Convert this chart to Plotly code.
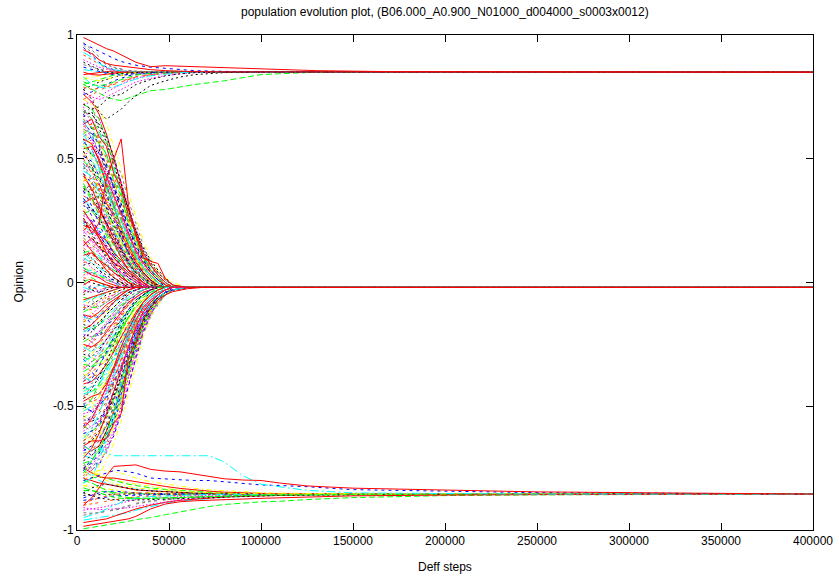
import plotly.graph_objects as go

TITLE = "population evolution plot, (B06.000_A0.900_N01000_d004000_s0003x0012)"
X_LABEL = "Deff steps"
Y_LABEL = "Opinion"
X_TICKS = [0, 50000, 100000, 150000, 200000, 250000, 300000, 350000, 400000]
Y_TICKS = [-1, -0.5, 0, 0.5, 1]
Y_TICK_TEXT = ["-1", "-0.5", "0", "0.5", "1"]
END_STEP = 400000

# sample steps for each group
T_MID = [3500, 8000, 12000, 16000, 20000, 24000, 28000, 32000, 36000, 40000, 44000, 48000, 52000, 60000, 68000]
T_TOP = [3500, 8000, 12000, 16000, 20000, 24000, 28000, 32000, 40000, 48000, 56000, 64000, 80000, 100000, 130000, 170000]
T_BOT = [3500, 8000, 12000, 16000, 20000, 24000, 28000, 32000, 40000, 48000, 56000, 64000, 72000, 80000, 90000,
         100000, 110000, 125000, 150000, 200000, 250000]

MID_FINAL = -0.02
TOP_FINAL = 0.85
BOT_FINAL = -0.855

MID = [
    [0.76, 0.73, 0.68, 0.60, 0.50, 0.40, 0.29, 0.19, 0.11, 0.05, 0.02, -0.01, -0.02],
    [0.74, 0.72, 0.70, 0.64, 0.55, 0.46, 0.36, 0.26, 0.17, 0.10, 0.05, 0.02, 0.0, -0.02],
    [0.72, 0.70, 0.66, 0.58, 0.47, 0.36, 0.25, 0.16, 0.09, 0.04, 0.01, -0.01, -0.02],
    [0.69, 0.68, 0.64, 0.59, 0.51, 0.40, 0.29, 0.21, 0.13, 0.08, 0.04, 0.01, -0.01, -0.02],
    [0.68, 0.62, 0.55, 0.47, 0.38, 0.29, 0.20, 0.12, 0.06, 0.02, 0.0, -0.02],
    [0.66, 0.63, 0.57, 0.50, 0.41, 0.33, 0.26, 0.19, 0.10, 0.077, 0.04, 0.016, -0.01, -0.02],
    [0.64, 0.58, 0.50, 0.40, 0.30, 0.21, 0.13, 0.07, 0.03, 0.0, -0.02],
    [0.62, 0.60, 0.52, 0.45, 0.36, 0.27, 0.17, 0.10, 0.05, 0.02, -0.01, -0.02],
    [0.60, 0.54, 0.46, 0.38, 0.28, 0.19, 0.12, 0.06, 0.02, -0.01, -0.02],
    [0.58, 0.56, 0.49, 0.39, 0.31, 0.22, 0.15, 0.09, 0.04, 0.01, -0.01, -0.02],
    [0.56, 0.50, 0.42, 0.33, 0.24, 0.16, 0.10, 0.05, 0.01, -0.01, -0.02],
    [0.55, 0.52, 0.47, 0.41, 0.33, 0.25, 0.18, 0.11, 0.06, 0.03, 0.0, -0.02],
    [0.53, 0.47, 0.38, 0.30, 0.22, 0.14, 0.08, 0.03, 0.0, -0.02],
    [0.51, 0.49, 0.43, 0.36, 0.27, 0.20, 0.12, 0.07, 0.03, 0.0, -0.02],
    [0.50, 0.44, 0.37, 0.28, 0.20, 0.13, 0.07, 0.03, 0.0, -0.02],
    [0.48, 0.45, 0.40, 0.34, 0.26, 0.18, 0.11, 0.06, 0.02, -0.01, -0.02],
    [0.47, 0.41, 0.33, 0.25, 0.17, 0.10, 0.05, 0.01, -0.01, -0.02],
    [0.45, 0.43, 0.36, 0.29, 0.21, 0.15, 0.09, 0.05, 0.02, -0.01, -0.02],
    [0.43, 0.38, 0.31, 0.23, 0.16, 0.10, 0.05, 0.02, -0.01, -0.02],
    [0.42, 0.40, 0.35, 0.29, 0.22, 0.16, 0.10, 0.05, 0.02, 0.0, -0.02],
    [0.40, 0.34, 0.27, 0.19, 0.12, 0.07, 0.03, 0.0, -0.02],
    [0.38, 0.36, 0.30, 0.24, 0.19, 0.13, 0.08, 0.04, 0.01, -0.01, -0.02],
    [0.37, 0.31, 0.24, 0.17, 0.11, 0.06, 0.02, -0.01, -0.02],
    [0.35, 0.33, 0.28, 0.22, 0.15, 0.10, 0.06, 0.03, 0.0, -0.02],
    [0.33, 0.27, 0.20, 0.14, 0.08, 0.04, 0.01, -0.01, -0.02],
    [0.31, 0.30, 0.26, 0.21, 0.17, 0.12, 0.08, 0.04, 0.02, 0.0, -0.01, -0.02],
    [0.29, 0.24, 0.18, 0.12, 0.07, 0.03, 0.0, -0.02],
    [0.27, 0.25, 0.20, 0.15, 0.10, 0.06, 0.03, 0.01, -0.01, -0.02],
    [0.25, 0.20, 0.15, 0.10, 0.06, 0.02, 0.0, -0.02],
    [0.23, 0.22, 0.18, 0.14, 0.10, 0.07, 0.04, 0.02, 0.0, -0.02],
    [0.21, 0.17, 0.12, 0.08, 0.04, 0.01, -0.01, -0.02],
    [0.19, 0.18, 0.15, 0.11, 0.08, 0.05, 0.02, 0.0, -0.02],
    [0.17, 0.13, 0.09, 0.05, 0.02, 0.0, -0.02],
    [0.15, 0.14, 0.12, 0.09, 0.06, 0.04, 0.02, 0.0, -0.01, -0.02],
    [0.13, 0.10, 0.07, 0.04, 0.02, 0.0, -0.02],
    [0.11, 0.12, 0.09, 0.07, 0.04, 0.02, 0.0, -0.01, -0.02],
    [0.09, 0.06, 0.04, 0.02, 0.0, -0.02],
    [0.07, 0.08, 0.05, 0.03, 0.01, 0.0, -0.01, -0.02],
    [0.05, 0.03, 0.02, 0.0, -0.01, -0.02],
    [0.03, 0.04, 0.02, 0.01, 0.0, -0.01, -0.02],
    [0.01, 0.0, -0.01, -0.01, -0.02],
    [-0.01, 0.01, 0.0, -0.01, -0.02],
    [-0.03, -0.04, -0.03, -0.03, -0.02],
    [-0.05, -0.03, -0.04, -0.03, -0.02],
    [-0.07, -0.06, -0.05, -0.04, -0.03, -0.02],
    [-0.09, -0.10, -0.08, -0.06, -0.05, -0.03, -0.02],
    [-0.11, -0.09, -0.07, -0.05, -0.04, -0.03, -0.02],
    [-0.13, -0.14, -0.12, -0.09, -0.07, -0.05, -0.03, -0.02],
    [-0.15, -0.13, -0.10, -0.08, -0.06, -0.04, -0.03, -0.02],
    [-0.17, -0.18, -0.16, -0.13, -0.10, -0.07, -0.05, -0.03, -0.02],
    [-0.19, -0.17, -0.14, -0.11, -0.08, -0.05, -0.03, -0.02],
    [-0.21, -0.22, -0.20, -0.17, -0.13, -0.10, -0.07, -0.05, -0.03, -0.02],
    [-0.23, -0.20, -0.17, -0.13, -0.10, -0.07, -0.04, -0.03, -0.02],
    [-0.25, -0.26, -0.24, -0.20, -0.16, -0.12, -0.08, -0.06, -0.04, -0.03, -0.02],
    [-0.27, -0.24, -0.20, -0.16, -0.12, -0.08, -0.05, -0.03, -0.02],
    [-0.29, -0.30, -0.27, -0.23, -0.19, -0.15, -0.11, -0.07, -0.05, -0.03, -0.02],
    [-0.31, -0.28, -0.24, -0.19, -0.14, -0.10, -0.06, -0.04, -0.03, -0.02],
    [-0.33, -0.34, -0.31, -0.27, -0.22, -0.17, -0.12, -0.08, -0.05, -0.03, -0.02],
    [-0.35, -0.32, -0.28, -0.23, -0.18, -0.13, -0.09, -0.06, -0.04, -0.03, -0.02],
    [-0.37, -0.38, -0.35, -0.31, -0.26, -0.20, -0.15, -0.10, -0.07, -0.05, -0.03, -0.02],
    [-0.39, -0.35, -0.30, -0.25, -0.19, -0.14, -0.09, -0.06, -0.04, -0.03, -0.02],
    [-0.41, -0.40, -0.37, -0.33, -0.28, -0.22, -0.17, -0.12, -0.08, -0.05, -0.03, -0.02],
    [-0.43, -0.39, -0.34, -0.28, -0.22, -0.16, -0.11, -0.07, -0.05, -0.03, -0.02],
    [-0.45, -0.44, -0.41, -0.36, -0.30, -0.24, -0.18, -0.13, -0.09, -0.06, -0.04, -0.03, -0.02],
    [-0.47, -0.43, -0.38, -0.32, -0.25, -0.18, -0.12, -0.08, -0.05, -0.03, -0.02],
    [-0.49, -0.48, -0.45, -0.40, -0.34, -0.27, -0.20, -0.14, -0.09, -0.06, -0.04, -0.03, -0.02],
    [-0.51, -0.47, -0.41, -0.34, -0.27, -0.20, -0.14, -0.09, -0.06, -0.04, -0.02],
    [-0.53, -0.52, -0.48, -0.43, -0.36, -0.29, -0.22, -0.16, -0.11, -0.07, -0.05, -0.03, -0.02],
    [-0.55, -0.51, -0.46, -0.39, -0.31, -0.24, -0.17, -0.11, -0.07, -0.05, -0.03, -0.02],
    [-0.57, -0.56, -0.52, -0.46, -0.39, -0.31, -0.24, -0.17, -0.12, -0.08, -0.05, -0.03, -0.02],
    [-0.59, -0.55, -0.49, -0.42, -0.34, -0.26, -0.19, -0.13, -0.08, -0.05, -0.03, -0.02],
    [-0.61, -0.60, -0.57, -0.51, -0.44, -0.36, -0.28, -0.20, -0.14, -0.09, -0.06, -0.04, -0.03, -0.02],
    [-0.63, -0.59, -0.53, -0.45, -0.37, -0.29, -0.21, -0.14, -0.09, -0.06, -0.04, -0.02],
    [-0.65, -0.64, -0.60, -0.54, -0.46, -0.38, -0.29, -0.21, -0.15, -0.10, -0.06, -0.04, -0.03, -0.02],
    [-0.67, -0.63, -0.57, -0.49, -0.40, -0.31, -0.23, -0.16, -0.10, -0.07, -0.04, -0.03, -0.02],
    [-0.69, -0.68, -0.64, -0.57, -0.48, -0.39, -0.30, -0.22, -0.15, -0.10, -0.07, -0.04, -0.03, -0.02],
    [-0.71, -0.67, -0.61, -0.53, -0.44, -0.35, -0.26, -0.18, -0.12, -0.08, -0.05, -0.03, -0.02],
    [-0.73, -0.72, -0.68, -0.61, -0.52, -0.42, -0.33, -0.24, -0.17, -0.11, -0.07, -0.05, -0.03, -0.02],
    [-0.75, -0.73, -0.69, -0.62, -0.54, -0.45, -0.35, -0.25, -0.17, -0.11, -0.07, -0.04, -0.03, -0.02],
    [-0.78, -0.74, -0.70, -0.66, -0.60, -0.50, -0.38, -0.27, -0.18, -0.12, -0.08, -0.05, -0.03, -0.02],
    [-0.81, -0.79, -0.72, -0.63, -0.52, -0.41, -0.30, -0.21, -0.14, -0.09, -0.06, -0.04, -0.03, -0.02],
]
MID_B = [
    [0.70, 0.66, 0.61, 0.55, 0.45, 0.37, 0.27, 0.20, 0.12, 0.07, 0.03, 0.0, -0.02],
    [0.67, 0.69, 0.62, 0.57, 0.48, 0.38, 0.30, 0.21, 0.14, 0.09, 0.05, 0.02, -0.01, -0.02],
    [0.65, 0.60, 0.56, 0.46, 0.40, 0.30, 0.23, 0.15, 0.09, 0.05, 0.02, -0.01, -0.02],
    [0.63, 0.64, 0.58, 0.52, 0.43, 0.35, 0.24, 0.18, 0.11, 0.06, 0.03, 0.0, -0.02],
    [0.61, 0.57, 0.53, 0.44, 0.37, 0.26, 0.19, 0.12, 0.08, 0.04, 0.01, -0.01, -0.02],
    [0.59, 0.61, 0.55, 0.47, 0.40, 0.31, 0.22, 0.16, 0.10, 0.05, 0.02, 0.0, -0.02],
    [0.57, 0.52, 0.48, 0.42, 0.32, 0.25, 0.17, 0.11, 0.06, 0.03, 0.0, -0.02],
    [0.54, 0.55, 0.50, 0.43, 0.35, 0.28, 0.20, 0.13, 0.08, 0.04, 0.01, -0.01, -0.02],
    [0.52, 0.48, 0.45, 0.37, 0.29, 0.23, 0.15, 0.10, 0.05, 0.02, 0.0, -0.02],
    [0.49, 0.46, 0.41, 0.38, 0.30, 0.22, 0.16, 0.10, 0.06, 0.03, 0.0, -0.02],
    [0.46, 0.47, 0.42, 0.35, 0.28, 0.21, 0.14, 0.08, 0.04, 0.01, -0.01, -0.02],
    [0.44, 0.40, 0.37, 0.31, 0.25, 0.18, 0.12, 0.07, 0.03, 0.0, -0.02],
    [0.41, 0.42, 0.38, 0.33, 0.26, 0.19, 0.13, 0.09, 0.05, 0.02, -0.01, -0.02],
    [0.39, 0.35, 0.32, 0.26, 0.20, 0.14, 0.09, 0.05, 0.02, -0.01, -0.02],
    [0.36, 0.38, 0.33, 0.27, 0.21, 0.16, 0.11, 0.06, 0.03, 0.0, -0.02],
    [0.34, 0.30, 0.27, 0.21, 0.16, 0.11, 0.07, 0.03, 0.0, -0.02],
    [0.32, 0.34, 0.29, 0.24, 0.18, 0.13, 0.09, 0.05, 0.02, 0.0, -0.02],
    [0.30, 0.26, 0.23, 0.18, 0.13, 0.09, 0.05, 0.02, -0.01, -0.02],
    [0.28, 0.29, 0.25, 0.20, 0.15, 0.11, 0.07, 0.04, 0.01, -0.01, -0.02],
    [0.26, 0.22, 0.19, 0.15, 0.11, 0.07, 0.04, 0.01, -0.01, -0.02],
    [0.24, 0.25, 0.21, 0.17, 0.12, 0.08, 0.05, 0.02, 0.0, -0.02],
    [0.22, 0.19, 0.16, 0.12, 0.09, 0.05, 0.02, 0.0, -0.02],
    [0.20, 0.21, 0.17, 0.13, 0.10, 0.06, 0.03, 0.01, -0.01, -0.02],
    [0.18, 0.15, 0.13, 0.09, 0.06, 0.03, 0.01, -0.01, -0.02],
    [0.16, 0.17, 0.14, 0.10, 0.07, 0.04, 0.02, 0.0, -0.02],
    [0.14, 0.11, 0.10, 0.06, 0.04, 0.02, 0.0, -0.02],
    [0.12, 0.13, 0.10, 0.07, 0.05, 0.03, 0.01, -0.01, -0.02],
    [0.10, 0.08, 0.06, 0.04, 0.02, 0.0, -0.02],
    [0.08, 0.09, 0.07, 0.05, 0.03, 0.01, -0.01, -0.02],
    [0.06, 0.04, 0.03, 0.01, 0.0, -0.01, -0.02],
    [0.04, 0.05, 0.03, 0.02, 0.0, -0.02],
    [0.02, 0.01, 0.0, -0.01, -0.02],
    [0.00, 0.02, 0.0, -0.01, -0.02],
    [-0.02, -0.03, -0.01, -0.02],
    [-0.04, -0.02, -0.03, -0.02],
    [-0.06, -0.07, -0.05, -0.04, -0.03, -0.02],
    [-0.08, -0.06, -0.06, -0.04, -0.03, -0.02],
    [-0.10, -0.11, -0.09, -0.07, -0.05, -0.04, -0.03, -0.02],
    [-0.12, -0.10, -0.10, -0.08, -0.06, -0.04, -0.03, -0.02],
    [-0.14, -0.15, -0.13, -0.11, -0.08, -0.06, -0.04, -0.03, -0.02],
    [-0.16, -0.14, -0.13, -0.10, -0.08, -0.06, -0.04, -0.03, -0.02],
    [-0.18, -0.19, -0.17, -0.15, -0.12, -0.09, -0.07, -0.05, -0.03, -0.02],
    [-0.20, -0.18, -0.17, -0.14, -0.11, -0.08, -0.06, -0.04, -0.03, -0.02],
    [-0.22, -0.24, -0.22, -0.19, -0.16, -0.12, -0.09, -0.06, -0.04, -0.03, -0.02],
    [-0.24, -0.22, -0.21, -0.17, -0.14, -0.10, -0.07, -0.05, -0.03, -0.02],
    [-0.26, -0.28, -0.26, -0.23, -0.19, -0.15, -0.11, -0.08, -0.05, -0.04, -0.03, -0.02],
    [-0.28, -0.26, -0.25, -0.21, -0.17, -0.13, -0.09, -0.06, -0.04, -0.03, -0.02],
    [-0.30, -0.32, -0.30, -0.27, -0.23, -0.18, -0.14, -0.10, -0.07, -0.05, -0.03, -0.02],
    [-0.32, -0.30, -0.29, -0.25, -0.21, -0.16, -0.12, -0.08, -0.05, -0.04, -0.03, -0.02],
    [-0.34, -0.36, -0.34, -0.31, -0.27, -0.22, -0.17, -0.12, -0.09, -0.06, -0.04, -0.03, -0.02],
    [-0.36, -0.34, -0.33, -0.29, -0.24, -0.19, -0.14, -0.10, -0.07, -0.05, -0.03, -0.02],
    [-0.38, -0.40, -0.38, -0.35, -0.31, -0.26, -0.20, -0.15, -0.11, -0.07, -0.05, -0.03, -0.02],
    [-0.40, -0.38, -0.37, -0.33, -0.28, -0.22, -0.16, -0.12, -0.08, -0.05, -0.04, -0.03, -0.02],
    [-0.42, -0.44, -0.42, -0.39, -0.34, -0.29, -0.23, -0.17, -0.12, -0.08, -0.06, -0.04, -0.03, -0.02],
    [-0.44, -0.42, -0.41, -0.37, -0.32, -0.26, -0.19, -0.14, -0.09, -0.06, -0.04, -0.03, -0.02],
    [-0.46, -0.48, -0.47, -0.43, -0.38, -0.32, -0.25, -0.19, -0.13, -0.09, -0.06, -0.04, -0.03, -0.02],
    [-0.48, -0.46, -0.45, -0.41, -0.35, -0.28, -0.21, -0.15, -0.10, -0.07, -0.05, -0.03, -0.02],
    [-0.50, -0.52, -0.50, -0.46, -0.41, -0.34, -0.27, -0.20, -0.14, -0.10, -0.07, -0.05, -0.03, -0.02],
    [-0.52, -0.50, -0.49, -0.45, -0.39, -0.31, -0.23, -0.16, -0.11, -0.07, -0.05, -0.03, -0.02],
    [-0.54, -0.56, -0.55, -0.51, -0.45, -0.38, -0.30, -0.22, -0.15, -0.10, -0.07, -0.05, -0.03, -0.02],
    [-0.56, -0.54, -0.53, -0.48, -0.42, -0.34, -0.26, -0.18, -0.12, -0.08, -0.05, -0.03, -0.02],
    [-0.58, -0.60, -0.58, -0.54, -0.47, -0.39, -0.31, -0.23, -0.16, -0.11, -0.07, -0.05, -0.03, -0.02],
    [-0.60, -0.58, -0.56, -0.51, -0.44, -0.36, -0.27, -0.19, -0.13, -0.09, -0.06, -0.04, -0.03, -0.02],
    [-0.62, -0.64, -0.62, -0.57, -0.50, -0.41, -0.32, -0.24, -0.17, -0.11, -0.07, -0.05, -0.03, -0.02],
    [-0.64, -0.62, -0.60, -0.55, -0.48, -0.39, -0.30, -0.21, -0.14, -0.09, -0.06, -0.04, -0.03, -0.02],
    [-0.66, -0.68, -0.66, -0.60, -0.52, -0.43, -0.34, -0.25, -0.18, -0.12, -0.08, -0.05, -0.03, -0.02],
    [-0.68, -0.66, -0.63, -0.58, -0.50, -0.41, -0.31, -0.22, -0.15, -0.10, -0.06, -0.04, -0.03, -0.02],
    [-0.70, -0.71, -0.69, -0.63, -0.55, -0.46, -0.36, -0.26, -0.18, -0.12, -0.08, -0.05, -0.03, -0.02],
    [-0.72, -0.70, -0.66, -0.60, -0.52, -0.43, -0.33, -0.23, -0.16, -0.10, -0.06, -0.04, -0.03, -0.02],
    [-0.74, -0.75, -0.71, -0.65, -0.57, -0.48, -0.38, -0.28, -0.19, -0.13, -0.08, -0.05, -0.03, -0.02],
    [-0.77, -0.72, -0.67, -0.62, -0.55, -0.46, -0.36, -0.26, -0.18, -0.12, -0.08, -0.05, -0.03, -0.02],
    [-0.79, -0.76, -0.73, -0.68, -0.61, -0.52, -0.41, -0.30, -0.20, -0.13, -0.08, -0.05, -0.03, -0.02],
    [-0.83, -0.80, -0.74, -0.67, -0.58, -0.48, -0.37, -0.27, -0.18, -0.12, -0.08, -0.05, -0.03, -0.02],
]
MID_C = [
    [0.71, 0.64, 0.67, 0.56, 0.49, 0.41, 0.30, 0.22, 0.13, 0.07, 0.03, 0.0, -0.02],
    [0.68, 0.71, 0.63, 0.60, 0.50, 0.44, 0.33, 0.24, 0.15, 0.08, 0.04, 0.01, -0.02],
    [0.66, 0.58, 0.61, 0.51, 0.46, 0.35, 0.28, 0.18, 0.11, 0.06, 0.02, -0.01, -0.02],
    [0.64, 0.66, 0.59, 0.55, 0.44, 0.38, 0.27, 0.20, 0.12, 0.07, 0.03, 0.0, -0.02],
    [0.62, 0.55, 0.57, 0.48, 0.42, 0.32, 0.25, 0.16, 0.10, 0.05, 0.02, -0.01, -0.02],
    [0.60, 0.63, 0.56, 0.52, 0.41, 0.35, 0.24, 0.17, 0.10, 0.05, 0.02, -0.02],
    [0.58, 0.51, 0.54, 0.45, 0.39, 0.29, 0.22, 0.14, 0.08, 0.04, 0.01, -0.02],
    [0.56, 0.59, 0.52, 0.48, 0.38, 0.32, 0.22, 0.15, 0.09, 0.05, 0.01, -0.02],
    [0.53, 0.46, 0.49, 0.40, 0.35, 0.26, 0.19, 0.12, 0.07, 0.03, 0.0, -0.02],
    [0.51, 0.54, 0.47, 0.43, 0.34, 0.28, 0.19, 0.13, 0.07, 0.03, 0.0, -0.02],
    [0.48, 0.42, 0.45, 0.36, 0.31, 0.23, 0.16, 0.10, 0.05, 0.02, -0.01, -0.02],
    [0.46, 0.50, 0.43, 0.39, 0.30, 0.25, 0.17, 0.11, 0.06, 0.03, 0.0, -0.02],
    [0.44, 0.37, 0.40, 0.32, 0.27, 0.20, 0.14, 0.08, 0.04, 0.01, -0.02],
    [0.41, 0.45, 0.38, 0.34, 0.27, 0.21, 0.14, 0.09, 0.05, 0.02, -0.01, -0.02],
    [0.39, 0.33, 0.36, 0.28, 0.24, 0.17, 0.11, 0.07, 0.03, 0.0, -0.02],
    [0.37, 0.40, 0.34, 0.30, 0.23, 0.18, 0.12, 0.07, 0.04, 0.01, -0.02],
    [0.34, 0.29, 0.31, 0.24, 0.20, 0.14, 0.09, 0.05, 0.02, -0.01, -0.02],
    [0.32, 0.35, 0.29, 0.26, 0.20, 0.15, 0.10, 0.06, 0.03, 0.0, -0.02],
    [0.29, 0.24, 0.27, 0.20, 0.17, 0.11, 0.07, 0.04, 0.01, -0.02],
    [0.27, 0.30, 0.24, 0.21, 0.16, 0.12, 0.08, 0.04, 0.02, -0.01, -0.02],
    [0.24, 0.19, 0.22, 0.16, 0.13, 0.08, 0.05, 0.02, 0.0, -0.02],
    [0.21, 0.24, 0.19, 0.17, 0.12, 0.09, 0.05, 0.03, 0.0, -0.02],
    [0.18, 0.14, 0.16, 0.11, 0.09, 0.05, 0.03, 0.0, -0.02],
    [0.15, 0.18, 0.14, 0.12, 0.08, 0.06, 0.03, 0.01, -0.02],
    [0.12, 0.09, 0.11, 0.07, 0.05, 0.02, 0.0, -0.02],
    [0.09, 0.12, 0.08, 0.07, 0.04, 0.02, 0.0, -0.02],
    [0.06, 0.03, 0.05, 0.02, 0.01, -0.01, -0.02],
    [0.03, 0.06, 0.02, 0.02, 0.0, -0.02],
    [0.0, -0.03, -0.01, -0.02],
    [-0.04, -0.01, -0.04, -0.02],
    [-0.07, -0.10, -0.07, -0.06, -0.04, -0.03, -0.02],
    [-0.10, -0.07, -0.10, -0.07, -0.06, -0.04, -0.03, -0.02],
    [-0.13, -0.17, -0.13, -0.12, -0.08, -0.06, -0.04, -0.03, -0.02],
    [-0.16, -0.12, -0.16, -0.12, -0.10, -0.07, -0.05, -0.03, -0.02],
    [-0.19, -0.23, -0.19, -0.17, -0.13, -0.10, -0.07, -0.05, -0.03, -0.02],
    [-0.22, -0.18, -0.22, -0.17, -0.15, -0.11, -0.08, -0.05, -0.03, -0.02],
    [-0.25, -0.29, -0.25, -0.23, -0.18, -0.14, -0.10, -0.07, -0.05, -0.03, -0.02],
    [-0.28, -0.24, -0.28, -0.23, -0.20, -0.15, -0.11, -0.08, -0.05, -0.03, -0.02],
    [-0.31, -0.35, -0.31, -0.29, -0.23, -0.19, -0.14, -0.10, -0.07, -0.04, -0.03, -0.02],
    [-0.34, -0.30, -0.34, -0.28, -0.25, -0.19, -0.14, -0.10, -0.06, -0.04, -0.03, -0.02],
    [-0.37, -0.41, -0.37, -0.35, -0.29, -0.24, -0.18, -0.13, -0.09, -0.06, -0.04, -0.03, -0.02],
    [-0.40, -0.36, -0.40, -0.34, -0.31, -0.24, -0.18, -0.13, -0.08, -0.05, -0.03, -0.02],
    [-0.43, -0.47, -0.43, -0.41, -0.35, -0.29, -0.22, -0.16, -0.11, -0.07, -0.05, -0.03, -0.02],
    [-0.46, -0.42, -0.46, -0.40, -0.36, -0.29, -0.22, -0.15, -0.10, -0.06, -0.04, -0.03, -0.02],
    [-0.49, -0.53, -0.49, -0.47, -0.40, -0.34, -0.26, -0.19, -0.13, -0.09, -0.06, -0.04, -0.02],
    [-0.52, -0.48, -0.52, -0.46, -0.42, -0.34, -0.26, -0.18, -0.12, -0.08, -0.05, -0.03, -0.02],
    [-0.55, -0.59, -0.55, -0.53, -0.46, -0.39, -0.30, -0.22, -0.15, -0.10, -0.06, -0.04, -0.02],
    [-0.58, -0.54, -0.58, -0.52, -0.47, -0.39, -0.30, -0.21, -0.14, -0.09, -0.06, -0.04, -0.02],
    [-0.61, -0.65, -0.61, -0.59, -0.51, -0.44, -0.34, -0.25, -0.17, -0.11, -0.07, -0.04, -0.02],
    [-0.64, -0.60, -0.64, -0.58, -0.53, -0.44, -0.34, -0.24, -0.16, -0.10, -0.06, -0.04, -0.02],
    [-0.67, -0.70, -0.67, -0.64, -0.56, -0.48, -0.38, -0.28, -0.19, -0.12, -0.08, -0.05, -0.03, -0.02],
    [-0.70, -0.66, -0.69, -0.63, -0.58, -0.49, -0.38, -0.27, -0.18, -0.11, -0.07, -0.04, -0.02],
    [-0.73, -0.76, -0.72, -0.69, -0.61, -0.52, -0.41, -0.31, -0.21, -0.14, -0.09, -0.05, -0.03, -0.02],
    [-0.76, -0.71, -0.74, -0.67, -0.62, -0.53, -0.42, -0.30, -0.20, -0.13, -0.08, -0.05, -0.02],
    [-0.80, -0.77, -0.78, -0.72, -0.65, -0.56, -0.45, -0.33, -0.22, -0.14, -0.09, -0.05, -0.03, -0.02],
]
MID_RED_SPIKE = [0.26, 0.20, 0.24, 0.42, 0.50, 0.58, 0.31, 0.19, 0.10, 0.085, 0.077, 0.016, -0.01, -0.02]
MID_RED_LOW = [-0.66, -0.64, -0.64, -0.63, -0.57, -0.53, -0.30, -0.24, -0.15, -0.10, -0.07, -0.05, -0.037, -0.025, -0.02]
MID_MAGENTA = [-0.58, -0.55, -0.50, -0.44, -0.38, -0.33, -0.27, -0.22, -0.11, -0.07, -0.05, -0.03, -0.02]

TOP = [
    [0.95, 0.92, 0.89, 0.87, 0.86, 0.855, 0.852, 0.851],
    [0.92, 0.90, 0.88, 0.865, 0.858, 0.854, 0.851],
    [0.90, 0.885, 0.87, 0.862, 0.856, 0.853, 0.851],
    [0.88, 0.87, 0.862, 0.857, 0.853, 0.851],
    [0.86, 0.855, 0.85, 0.848, 0.849, 0.85],
    [0.84, 0.845, 0.85, 0.852, 0.851, 0.85],
    [0.82, 0.83, 0.835, 0.84, 0.845, 0.848, 0.85],
    [0.80, 0.81, 0.82, 0.83, 0.838, 0.844, 0.848, 0.85],
    [0.78, 0.795, 0.81, 0.82, 0.83, 0.836, 0.842, 0.846, 0.849, 0.85],
    [0.76, 0.77, 0.79, 0.80, 0.815, 0.826, 0.835, 0.841, 0.847, 0.85],
    [0.74, 0.76, 0.775, 0.79, 0.80, 0.81, 0.82, 0.83, 0.84, 0.846, 0.849, 0.85],
    [0.72, 0.73, 0.75, 0.77, 0.785, 0.80, 0.815, 0.826, 0.838, 0.845, 0.848, 0.85],
    [0.97, 0.94, 0.91, 0.885, 0.87, 0.862, 0.857, 0.854, 0.852],
    [0.93, 0.91, 0.885, 0.87, 0.86, 0.855, 0.852],
    [0.85, 0.84, 0.838, 0.842, 0.846, 0.849, 0.85],
    [0.83, 0.82, 0.815, 0.82, 0.83, 0.838, 0.843, 0.847, 0.85],
    [0.81, 0.80, 0.795, 0.80, 0.81, 0.82, 0.83, 0.838, 0.845, 0.849, 0.85],
    [0.89, 0.875, 0.86, 0.85, 0.845, 0.843, 0.846, 0.849, 0.85],
    [0.87, 0.86, 0.852, 0.845, 0.84, 0.838, 0.84, 0.845, 0.848, 0.85],
    [0.79, 0.78, 0.785, 0.795, 0.805, 0.815, 0.825, 0.832, 0.84, 0.845, 0.848, 0.85],
    [0.77, 0.75, 0.74, 0.75, 0.765, 0.78, 0.795, 0.81, 0.825, 0.836, 0.843, 0.848, 0.85],
    [0.96, 0.93, 0.90, 0.88, 0.868, 0.86, 0.856, 0.853, 0.851],
    [0.83, 0.80, 0.79, 0.785, 0.79, 0.80, 0.812, 0.822, 0.835, 0.843, 0.848, 0.85],
]
TOP_RED_HIGH = [0.99, 0.975, 0.96, 0.945, 0.935, 0.92, 0.905, 0.89, 0.872, 0.876, 0.874, 0.872, 0.870, 0.866, 0.856, 0.852]
TOP_RED_2 = [0.94, 0.925, 0.90, 0.885, 0.878, 0.874, 0.87, 0.866, 0.86, 0.856, 0.853, 0.852, 0.851]
TOP_BLUE = [0.965, 0.95, 0.935, 0.92, 0.905, 0.893, 0.885, 0.878, 0.87, 0.865, 0.86, 0.856, 0.853, 0.851]
TOP_GREEN = [0.80, 0.78, 0.765, 0.75, 0.74, 0.735, 0.745, 0.755, 0.775, 0.78, 0.79, 0.80, 0.815, 0.84, 0.85, 0.851]
TOP_BLACK = [0.78, 0.74, 0.69, 0.66, 0.68, 0.70, 0.73, 0.755, 0.796, 0.815, 0.83, 0.84, 0.848, 0.851]
TOP_BLACK_2 = [0.72, 0.70, 0.71, 0.74, 0.755, 0.76, 0.78, 0.80, 0.82, 0.835, 0.843, 0.848, 0.85]

BOT = [
    [-0.76, -0.78, -0.80, -0.81, -0.82, -0.825, -0.83, -0.835, -0.84, -0.845, -0.848, -0.85, -0.852, -0.853, -0.854],
    [-0.79, -0.80, -0.81, -0.815, -0.82, -0.826, -0.832, -0.838, -0.842, -0.846, -0.849, -0.851, -0.853, -0.854],
    [-0.82, -0.825, -0.83, -0.835, -0.84, -0.843, -0.846, -0.848, -0.85, -0.852, -0.853, -0.854, -0.855],
    [-0.84, -0.842, -0.845, -0.848, -0.85, -0.851, -0.852, -0.853, -0.854, -0.855],
    [-0.86, -0.858, -0.857, -0.856, -0.855],
    [-0.88, -0.875, -0.87, -0.866, -0.863, -0.861, -0.86, -0.858, -0.857, -0.856, -0.855],
    [-0.90, -0.895, -0.89, -0.884, -0.878, -0.873, -0.869, -0.866, -0.863, -0.861, -0.86, -0.858, -0.857, -0.856],
    [-0.92, -0.915, -0.91, -0.905, -0.898, -0.89, -0.883, -0.877, -0.872, -0.868, -0.865, -0.862, -0.86, -0.858, -0.857, -0.856],
    [-0.94, -0.935, -0.93, -0.925, -0.92, -0.915, -0.905, -0.895, -0.885, -0.878, -0.872, -0.868, -0.865, -0.862, -0.86, -0.858, -0.857, -0.856],
    [-0.96, -0.955, -0.95, -0.945, -0.94, -0.935, -0.93, -0.92, -0.905, -0.892, -0.883, -0.877, -0.872, -0.868, -0.865, -0.862, -0.86, -0.858, -0.857],
    [-0.97, -0.965, -0.96, -0.955, -0.945, -0.935, -0.925, -0.915, -0.90, -0.888, -0.88, -0.875, -0.871, -0.867, -0.864, -0.862, -0.86, -0.858, -0.857],
    [-0.78, -0.77, -0.775, -0.785, -0.795, -0.805, -0.81, -0.815, -0.825, -0.832, -0.838, -0.843, -0.846, -0.849, -0.851, -0.853, -0.854],
    [-0.81, -0.79, -0.785, -0.79, -0.80, -0.808, -0.815, -0.82, -0.83, -0.836, -0.841, -0.845, -0.848, -0.85, -0.852, -0.853, -0.854],
    [-0.85, -0.83, -0.82, -0.815, -0.82, -0.826, -0.832, -0.837, -0.842, -0.846, -0.849, -0.851, -0.853, -0.854],
    [-0.87, -0.86, -0.85, -0.845, -0.843, -0.845, -0.848, -0.85, -0.852, -0.853, -0.854, -0.855],
    [-0.89, -0.88, -0.87, -0.862, -0.856, -0.852, -0.85, -0.851, -0.853, -0.854, -0.855],
    [-0.91, -0.915, -0.918, -0.917, -0.915, -0.913, -0.91, -0.905, -0.895, -0.885, -0.878, -0.872, -0.867, -0.864, -0.861, -0.859, -0.858, -0.857, -0.856],
    [-0.93, -0.932, -0.93, -0.925, -0.918, -0.91, -0.90, -0.892, -0.882, -0.875, -0.87, -0.866, -0.863, -0.861, -0.859, -0.858, -0.857, -0.856],
    [-0.95, -0.94, -0.93, -0.915, -0.90, -0.888, -0.878, -0.87, -0.865, -0.862, -0.86, -0.858, -0.857, -0.856],
    [-0.75, -0.77, -0.785, -0.79, -0.79, -0.795, -0.80, -0.806, -0.815, -0.824, -0.832, -0.838, -0.843, -0.847, -0.85, -0.852, -0.853, -0.854, -0.855],
    [-0.77, -0.765, -0.76, -0.76, -0.765, -0.77, -0.78, -0.79, -0.805, -0.815, -0.824, -0.832, -0.838, -0.842, -0.846, -0.849, -0.851, -0.853, -0.854],
    [-0.83, -0.84, -0.85, -0.86, -0.868, -0.872, -0.874, -0.874, -0.872, -0.87, -0.868, -0.866, -0.864, -0.862, -0.861, -0.86, -0.859, -0.858, -0.857, -0.856],
    [-0.85, -0.86, -0.87, -0.875, -0.878, -0.88, -0.88, -0.879, -0.877, -0.874, -0.871, -0.869, -0.867, -0.865, -0.863, -0.861, -0.86, -0.859, -0.857, -0.856],
    [-0.80, -0.81, -0.825, -0.84, -0.855, -0.865, -0.87, -0.872, -0.872, -0.87, -0.868, -0.866, -0.864, -0.862, -0.86, -0.859, -0.858, -0.857, -0.856],
    [-0.74, -0.76, -0.78, -0.80, -0.812, -0.82, -0.826, -0.83, -0.835, -0.84, -0.844, -0.847, -0.85, -0.852, -0.853, -0.854],
]
BOT_CYAN = [-0.66, -0.68, -0.67, -0.69, -0.70, -0.70, -0.70, -0.70, -0.70, -0.70, -0.70, -0.70, -0.70, -0.725, -0.78,
            -0.815, -0.825, -0.84, -0.85, -0.854, -0.855]
BOT_RED = [-0.90, -0.87, -0.83, -0.78, -0.743, -0.74, -0.738, -0.737, -0.755, -0.762, -0.765, -0.775, -0.784, -0.793,
           -0.798, -0.80, -0.81, -0.822, -0.831, -0.84, -0.846]
BOT_BLUE = [-0.80, -0.79, -0.78, -0.77, -0.76, -0.76, -0.765, -0.77, -0.79, -0.795, -0.797, -0.80, -0.80, -0.805,
            -0.812, -0.818, -0.82, -0.825, -0.837, -0.844, -0.849]
BOT_RED_LOW = [-0.985, -0.98, -0.975, -0.97, -0.966, -0.962, -0.955, -0.945, -0.915, -0.895, -0.886, -0.882, -0.879,
               -0.878, -0.875, -0.872, -0.87, -0.866, -0.862, -0.859, -0.857]
BOT_GREEN_LOW = [-0.995, -0.99, -0.985, -0.98, -0.975, -0.97, -0.965, -0.958, -0.95, -0.938, -0.926, -0.917, -0.905,
                 -0.897, -0.89, -0.886, -0.884, -0.877, -0.869, -0.861, -0.858]

# gnuplot postscript-like line types
COLORS = ["#ff0000", "#00ff00", "#0000ff", "#ff00ff", "#00ffff", "#ffff00", "#000000", "#ff4d00", "#808080"]
DASHES = ["solid", "6px,3px", "3px,4px", "1.5px,2px", "9px,3px,2px,3px", "5px,3px,1.5px,3px",
          "2px,3px", "3px,3px,3px,3px,3px,6px", "3px,3px,3px,3px,3px,3px,3px,6px"]

fig = go.Figure()


def add(vals, steps, final, style):
    xs = steps[:len(vals)] + [END_STEP]
    ys = list(vals) + [final]
    fig.add_trace(go.Scatter(x=xs, y=ys, mode="lines", hoverinfo="skip",
                             line=dict(color=COLORS[style], dash=DASHES[style], width=1)))


# interleave groups so colours mix like the original drawing order
groups = ((MID, T_MID, MID_FINAL), (MID_B, T_MID, MID_FINAL), (TOP, T_TOP, TOP_FINAL),
          (MID_C, T_MID, MID_FINAL), (BOT, T_BOT, BOT_FINAL))
n = max(len(g[0]) for g in groups)
k = 0
for i in range(n):
    for grp, steps, final in groups:
        if i < len(grp):
            add(grp[i], steps, final, k % 9)
            k += 1

add(TOP_GREEN, T_TOP, TOP_FINAL, 1)
add(TOP_BLACK, T_TOP, TOP_FINAL, 6)
add(TOP_BLACK_2, T_TOP, TOP_FINAL, 6)
add(TOP_BLUE, T_TOP, TOP_FINAL, 2)
add(TOP_RED_2, T_TOP, TOP_FINAL, 0)
add(TOP_RED_HIGH, T_TOP, TOP_FINAL, 0)
add(MID_MAGENTA, T_MID, MID_FINAL, 3)
add(MID_RED_LOW, T_MID, MID_FINAL, 0)
add(MID_RED_SPIKE, T_MID, MID_FINAL, 0)
add(BOT_GREEN_LOW, T_BOT, BOT_FINAL, 1)
add(BOT_RED_LOW, T_BOT, BOT_FINAL, 0)
add(BOT_BLUE, T_BOT, BOT_FINAL, 2)
add(BOT_CYAN, T_BOT, BOT_FINAL, 4)
add(BOT_RED, T_BOT, BOT_FINAL, 0)

FONT = "Liberation Sans, Arial, Helvetica, sans-serif"
TXT = dict(family=FONT, size=12, color="black")
axis_common = dict(showline=True, linecolor="black", linewidth=1, mirror="allticks",
                   ticks="inside", ticklen=7, tickcolor="black", tickwidth=1,
                   showgrid=False, zeroline=False, automargin=False, tickfont=TXT)

fig.update_layout(
    width=839, height=577,
    margin=dict(l=77, r=26, t=35, b=47, pad=0),
    paper_bgcolor="white", plot_bgcolor="white",
    showlegend=False,
    xaxis=dict(range=[0, END_STEP], tickvals=X_TICKS, ticktext=[str(v) for v in X_TICKS], **axis_common),
    yaxis=dict(range=[-1, 1], tickvals=Y_TICKS, ticktext=Y_TICK_TEXT, **axis_common),
    annotations=[
        dict(text=TITLE, xref="paper", yref="paper", x=0.5, y=1, yshift=23, showarrow=False,
             xanchor="center", yanchor="middle", font=TXT),
        dict(text=X_LABEL, xref="paper", yref="paper", x=0.5, y=0, yshift=-37, showarrow=False,
             xanchor="center", yanchor="middle", font=TXT),
        dict(text=Y_LABEL, xref="paper", yref="paper", x=0, y=0.5, xshift=-59, showarrow=False,
             xanchor="center", yanchor="middle", textangle=-90, font=TXT),
    ],
)

fig.write_html("out.html", config={"displayModeBar": False},
               post_script="document.body.style.margin='0px';")
